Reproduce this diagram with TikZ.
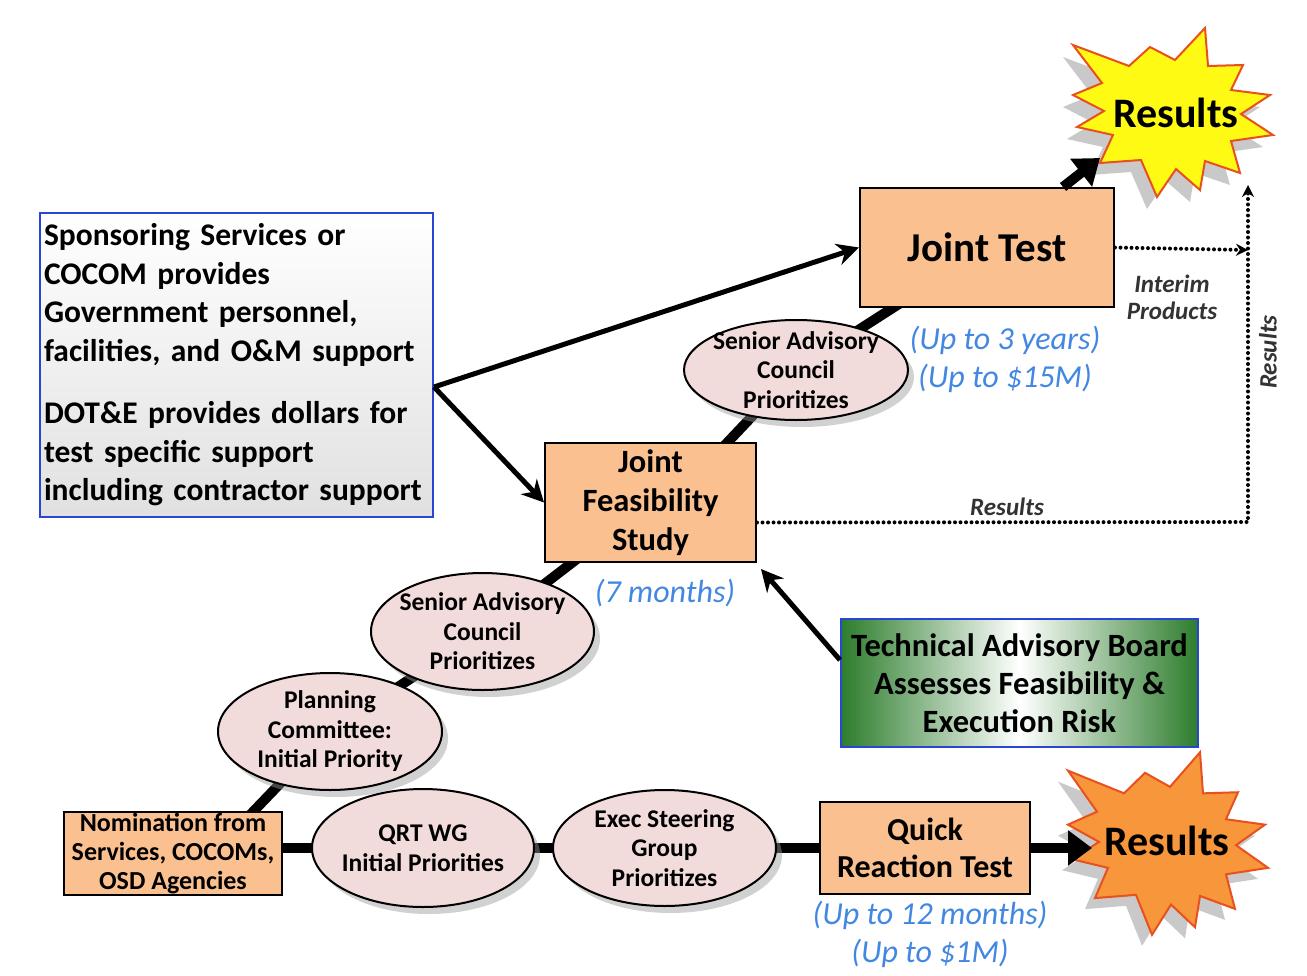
\documentclass[tikz,border=0pt]{standalone}
\usepackage{fontspec}
\setmainfont{Carlito}
\usetikzlibrary{arrows.meta,shapes.geometric,shadows,backgrounds,calc}
\definecolor{boxor}{RGB}{250,192,144}
\definecolor{ovalpink}{RGB}{242,220,219}
\definecolor{bordblue}{RGB}{40,70,210}
\definecolor{bluetxt}{RGB}{66,135,225}
\definecolor{tabgreen}{RGB}{45,125,45}
\definecolor{staryellow}{RGB}{255,250,20}
\definecolor{starorange}{RGB}{248,150,60}
\definecolor{starred}{RGB}{232,80,30}
\def\burst{(-97,-67) -- (-41,-46) -- (-20,-65) -- (5,-52) -- (35,-84) -- (38,-46) -- (73,-47) -- (61,-22) -- (100,-17) -- (71,2) -- (103,23) -- (61,29) -- (70,61) -- (35,49) -- (30,78) -- (6,57) -- (-13,85) -- (-29,48) -- (-70,51) -- (-57,23) -- (-93,15) -- (-66,-1) -- (-97,-17) -- (-68,-29) -- cycle}
\begin{document}
\begin{tikzpicture}[x=1pt,y=-1pt,
  box/.style={draw=black,line width=2pt,fill=boxor,align=center,inner sep=0pt},
  oval/.style={ellipse,draw=black,line width=2pt,fill=ovalpink,inner sep=0pt,
     drop shadow={shadow xshift=6pt,shadow yshift=-7pt,fill=black!40,opacity=.45}},
  ovaltext/.style={align=center,font=\bfseries\fontsize{25.5}{29.5}\selectfont,inner sep=0pt},
  conn/.style={line width=10pt},
  arr/.style={line width=5pt,-{Stealth[length=22pt,width=22pt]}},
  bigarr/.style={line width=10pt,-{Triangle[length=24pt,width=34pt]}},
  dotpath/.style={line width=4pt,line cap=round,dash pattern=on 0pt off 5.5pt},
  dotarr/.style={dotpath,-{Stealth[length=12pt,width=12pt]}},
  lab/.style={font=\bfseries\itshape\fontsize{25}{27}\selectfont,text=black!80,align=center,inner sep=0pt},
  bl/.style={font=\itshape\fontsize{32}{38}\selectfont,text=bluetxt,align=center,inner sep=0pt},
  restext/.style={font=\bfseries\fontsize{42}{44}\selectfont,inner sep=0pt}
]
\useasboundingbox (0,0) rectangle (1307,975);

% starbursts
\fill[black!35,opacity=.6,shift={(1160,124)}] \burst;
\filldraw[fill=staryellow,draw=starred,line width=2pt,shift={(1170,112)}] \burst;
\fill[black!35,opacity=.6,shift={(1155,854)},yscale=1.08] \burst;
\filldraw[fill=starorange,draw=starred,line width=2pt,shift={(1165,843)},yscale=1.08] \burst;
\node[restext] (res1) at (1176,113) {Results};
\node[restext] (res2) at (1167,841) {Results};

% boxes
\node[draw=bordblue,line width=2pt,top color=white,bottom color=black!12,
  minimum width=391pt,minimum height=304pt,text width=385pt,inner xsep=4pt,inner ysep=0pt,align=left,
  font=\bfseries\fontsize{31.5}{38.5}\selectfont] (sponsor) at (236.5,365)
  {Sponsoring Services or\\COCOM provides\\Government personnel,\\facilities, and O\&M support\\[24pt]DOT\&E provides dollars for\\test specific support\\including contractor support};
\node[box,minimum width=254pt,minimum height=119pt,font=\bfseries\fontsize{41}{44}\selectfont] (jt) at (987,247.5) {Joint Test};
\node[box,minimum width=211pt,minimum height=119pt,font=\bfseries\fontsize{32.5}{39}\selectfont] (jfs) at (650.5,502.5) {Joint\\Feasibility\\Study};
\node[box,minimum width=218pt,minimum height=83pt,font=\bfseries\fontsize{26}{29}\selectfont] (nom) at (173,853.5) {Nomination from\\Services, COCOMs,\\OSD Agencies};
\node[box,minimum width=210pt,minimum height=92pt,font=\bfseries\fontsize{32}{37}\selectfont] (qrt) at (925,848) {Quick\\Reaction Test};
\node[draw=bordblue,line width=2pt,left color=tabgreen,right color=tabgreen,middle color=white,
  minimum width=357pt,minimum height=128pt,align=center,inner sep=0pt,
  font=\bfseries\fontsize{32.5}{38}\selectfont] (tab) at (1019.5,683) {Technical Advisory Board\\Assesses Feasibility \&\\Execution Risk};

% ovals
\node[oval,minimum width=224pt,minimum height=100pt,
  label={[ovaltext,name=sac2t]center:Senior Advisory\\Council\\Prioritizes}] (sac2) at (796,370) {};
\node[oval,minimum width=223pt,minimum height=117pt,
  label={[ovaltext,name=sac1t]center:Senior Advisory\\Council\\Prioritizes}] (sac1) at (482.5,631.5) {};
\node[oval,minimum width=224pt,minimum height=117pt,
  label={[ovaltext,name=pct]center:Planning\\Committee:\\Initial Priority}] (pc) at (330,731.5) {};
\node[oval,minimum width=222pt,minimum height=118pt,
  label={[ovaltext,name=qwgt]center:QRT WG\\Initial Priorities}] (qwg) at (423,848) {};
\node[oval,minimum width=223pt,minimum height=116pt,
  label={[ovaltext,name=esgt]center:Exec Steering\\Group\\Prioritizes}] (esg) at (664.5,848) {};

% thick connectors behind
\begin{pgfonlayer}{background}
\fill[white] (0,0) rectangle (1307,975);
\draw[conn] ([xshift=40pt]nom.center) -- (pc.center);
\draw[conn] (pc.center) -- (sac1.center);
\draw[conn] (sac1.center) -- (jfs.center);
\draw[conn] ([xshift=20pt]jfs.center) -- (sac2.center);
\draw[conn] (sac2.center) -- (jt.center);
\draw[conn] ([yshift=5.5pt]nom.center) -- (qwg.center);
\draw[conn] (qwg.center) -- (esg.center);
\draw[conn] (esg.center) -- (qrt.center);
\end{pgfonlayer}

% arrows
\coordinate (split) at ([yshift=-22pt]sponsor.east);
\draw[arr] (split) -- (jt.west);
\draw[arr] (split) -- (jfs.west);
\draw[arr] ([yshift=23pt]tab.west) -- ([shift={(4pt,-6pt)}]jfs.south east);
\coordinate (r1in) at (1100,158);
\coordinate (r2in) at (1092,848);
\draw[bigarr] ([xshift=-52pt]jt.north east) -- (r1in);
\draw[bigarr] (qrt.east) -- (r2in);

% dotted
\coordinate (dr) at (1248,250);
\coordinate (dc) at (1248,522);
\coordinate (dt) at (1248,185);
\draw[dotarr] (jt.east) -- (dr);
\draw[dotarr] ([yshift=-20pt]jfs.east) -- (dc) -- (dt);

% labels
\node[lab] (rl1) at (1007,507) {Results};
\node[lab,rotate=90] (rl2) at (1268,352) {Results};
\node[lab] (ip) at (1172,297) {Interim\\Products};
\node[bl] (t1) at (1005,359) {(Up to 3 years)\\(Up to \$15M)};
\node[bl] (t2) at (665,593) {(7 months)};
\node[bl] (t3) at (930,934) {(Up to 12 months)\\(Up to \$1M)};
\end{tikzpicture}
\end{document}
